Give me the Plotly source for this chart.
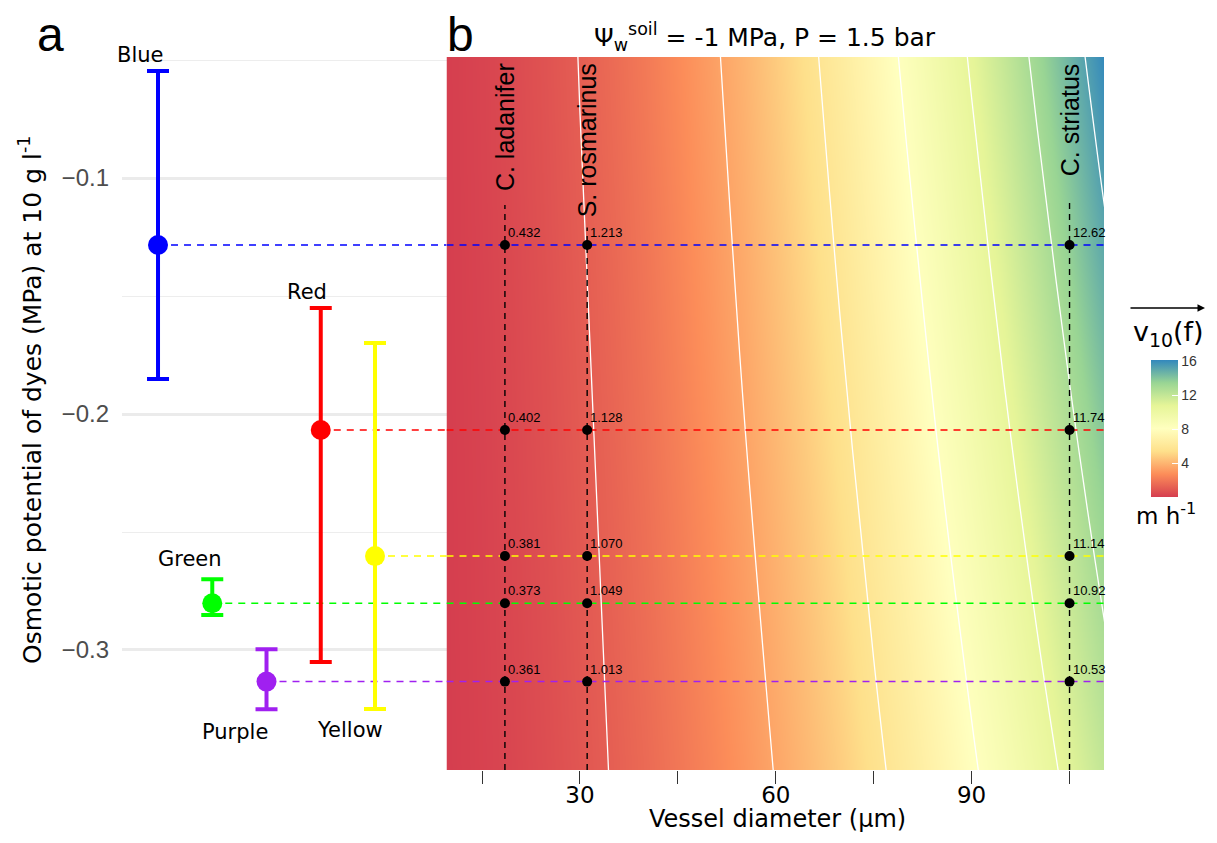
import plotly.graph_objects as go

# ---------------- data ----------------
dyes = ["Blue", "Green", "Purple", "Red", "Yellow"]
dye_colors = ["#0000ff", "#00ff00", "#a020f0", "#ff0000", "#ffff00"]
dye_pos = [1, 2, 3, 4, 5]
dye_mean = [-0.1284, -0.2802, -0.3134, -0.2068, -0.2602]
dye_upper = [-0.0547, -0.2700, -0.2997, -0.1551, -0.1699]
dye_lower = [-0.1852, -0.2852, -0.3251, -0.3051, -0.3250]

species = ["C. ladanifer", "S. rosmarinus", "C. striatus"]
species_diam = [18.5, 31.1, 105.0]
# flow velocity labels (m h-1), same order as dyes
vel_ladanifer = ["0.432", "0.373", "0.361", "0.402", "0.381"]
vel_rosmarinus = ["1.213", "1.049", "1.013", "1.128", "1.070"]
vel_striatus = ["12.62", "10.92", "10.53", "11.74", "11.14"]
vel_labels = [vel_ladanifer, vel_rosmarinus, vel_striatus]

diam_grid = [5, 10, 15, 20, 25, 30, 35, 40, 45, 50, 55, 60, 65, 70, 75, 80,
             85, 90, 95, 100, 105, 110, 115]
psi_grid = [-0.03, -0.37]
v_top = [0.034, 0.134, 0.302, 0.537, 0.838, 1.207, 1.643, 2.146, 2.717, 3.354,
         4.058, 4.829, 5.668, 6.573, 7.546, 8.586, 9.692, 10.866, 12.107,
         13.415, 14.790, 16.232, 17.741]
v_bottom = [0.024, 0.097, 0.218, 0.387, 0.605, 0.871, 1.186, 1.549, 1.961,
            2.421, 2.929, 3.486, 4.091, 4.745, 5.447, 6.197, 6.996, 7.843,
            8.739, 9.683, 10.675, 11.716, 12.806]
v_min, v_max = 0.09, 16.1
contour_start, contour_end, contour_step = 1.165, 15.3, 2.345

cb_ticks = [4, 8, 12, 16]
x_ticks = [15, 30, 45, 60, 75, 90, 105]
x_ticktext = ["", "30", "", "60", "", "90", ""]
y_ticks = [-0.1, -0.2, -0.3]
y_minor = [-0.05, -0.15, -0.25]

# ---------------- layout constants ----------------
# the page body has an 8 px margin, so the figure is placed at (8, 8)
OX, OY = 8, 8
W, H = 1201, 827


def px(x):
    return (x - OX) / W


def py(y):
    return 1 - (y - OY) / H


XA_RANGE = [0.336, 6.318]
XB_RANGE = [9.55, 110.28]
Y_RANGE = [-0.35085, -0.04873]
YDOM = [py(770), py(57)]
XA_DOM = [px(122), px(446.5)]
XB_DOM = [px(446.5), px(1104)]

spectral = ["#d53e4f", "#fc8d59", "#fee08b", "#ffffbf", "#e6f598", "#99d594", "#3288bd"]
cscale = [[i / 6, c] for i, c in enumerate(spectral)]

fig = go.Figure()

# --- panel b background
fig.add_trace(go.Heatmap(
    x=diam_grid, y=psi_grid, z=[v_top, v_bottom], zsmooth="best",
    colorscale=cscale, zmin=v_min, zmax=v_max, xaxis="x2", yaxis="y2",
    hoverinfo="skip",
    colorbar=dict(x=px(1151), xanchor="left", xpad=0, ypad=0,
                  y=py(428.5), yanchor="middle", len=137 / H, lenmode="fraction",
                  thickness=27, outlinewidth=0, tickvals=cb_ticks,
                  ticks="inside", ticklen=6, tickcolor="white", tickwidth=1,
                  tickfont=dict(family="Liberation Sans", size=14, color="#333333"))
))
fig.add_trace(go.Contour(
    x=diam_grid, y=psi_grid, z=[v_top, v_bottom], xaxis="x2", yaxis="y2",
    contours=dict(coloring="none", start=contour_start, end=contour_end, size=contour_step),
    line=dict(color="white", width=1.3), showscale=False, hoverinfo="skip"
))

# --- horizontal dashed lines (panel a part and panel b part)
for i, d in enumerate(dyes):
    fig.add_trace(go.Scatter(
        x=[dye_pos[i], XA_RANGE[1]], y=[dye_mean[i], dye_mean[i]], mode="lines",
        line=dict(color=dye_colors[i], width=1.5, dash="7px,6px"),
        xaxis="x", yaxis="y", hoverinfo="skip", showlegend=False))
    fig.add_trace(go.Scatter(
        x=[XB_RANGE[0], XB_RANGE[1]], y=[dye_mean[i], dye_mean[i]], mode="lines",
        line=dict(color=dye_colors[i], width=1.5, dash="7px,6px"),
        xaxis="x2", yaxis="y2", hoverinfo="skip", showlegend=False))

# --- vertical dashed species lines
line_tops = [-0.1114, -0.1210, -0.1097]
for j, s in enumerate(species):
    fig.add_trace(go.Scatter(
        x=[species_diam[j], species_diam[j]], y=[Y_RANGE[0], line_tops[j]], mode="lines",
        line=dict(color="black", width=1.4, dash="6px,5px"),
        xaxis="x2", yaxis="y2", hoverinfo="skip", showlegend=False))

# --- points
for j, s in enumerate(species):
    fig.add_trace(go.Scatter(
        x=[species_diam[j]] * len(dyes), y=dye_mean, mode="markers",
        marker=dict(color="black", size=10),
        xaxis="x2", yaxis="y2", hoverinfo="skip", showlegend=False))

# --- panel a error bars
for i, d in enumerate(dyes):
    fig.add_trace(go.Scatter(
        x=[dye_pos[i]], y=[dye_mean[i]], mode="markers",
        marker=dict(color=dye_colors[i], size=20),
        error_y=dict(type="data", symmetric=False,
                     array=[dye_upper[i] - dye_mean[i]],
                     arrayminus=[dye_mean[i] - dye_lower[i]],
                     color=dye_colors[i], thickness=4, width=11),
        xaxis="x", yaxis="y", showlegend=False))

annotations = []
# velocity labels next to points
for j, s in enumerate(species):
    for i, d in enumerate(dyes):
        annotations.append(dict(x=species_diam[j], y=dye_mean[i], xref="x2", yref="y2",
                                text=vel_labels[j][i], showarrow=False,
                                xanchor="left", yanchor="bottom", xshift=1, yshift=3,
                                font=dict(family="Liberation Sans", size=13, color="black")))

# species labels
for j, s in enumerate(species):
    annotations.append(dict(x=species_diam[j], y=-0.0505, xref="x2", yref="y2", text=s,
                            textangle=-90, yanchor="top", xanchor="center", showarrow=False,
                            font=dict(family="Liberation Sans", size=25, color="black")))


def paper_text(x, y, text, size, family="DejaVu Sans", angle=0):
    return dict(x=px(x), y=py(y), xref="paper", yref="paper", text=text,
                xanchor="center", yanchor="middle", textangle=angle, showarrow=False,
                font=dict(family=family, size=size, color="black"))


# dye labels (pixel placement of the repelled labels)
dye_label_px = {"Blue": (140, 55), "Green": (189.5, 559), "Purple": (235, 732),
                "Red": (307, 292), "Yellow": (350, 730)}
for d in dyes:
    lx, ly = dye_label_px[d]
    annotations.append(paper_text(lx, ly, d, 21))

annotations.append(paper_text(50, 35, "a", 48, "Liberation Sans"))
annotations.append(paper_text(460, 35, "b", 48, "Liberation Sans"))
annotations.append(paper_text(765, 37, "Ψ<sub>w</sub><sup>soil</sup> = -1 MPa, P = 1.5 bar", 25))
annotations.append(paper_text(777, 819, "Vessel diameter (μm)", 24))
annotations.append(paper_text(30, 400, "Osmotic potential of dyes (MPa) at 10 g l<sup>-1</sup>", 25,
                              angle=-90))
# colourbar titles
annotations.append(dict(x=px(1205), y=py(308), xref="paper", yref="paper", text="",
                        showarrow=True, ax=-76, ay=0, arrowhead=2, arrowsize=1,
                        arrowwidth=1.5, arrowcolor="black", standoff=0))
annotations.append(paper_text(1168, 333, "v<sub>10</sub>(f)", 27))
annotations.append(paper_text(1166, 514, "m h<sup>-1</sup>", 23))

fig.update_layout(
    width=W, height=H, margin=dict(l=0, r=0, t=0, b=0, autoexpand=False),
    paper_bgcolor="white", plot_bgcolor="white", showlegend=False,
    xaxis=dict(domain=XA_DOM, range=XA_RANGE, showgrid=False, zeroline=False,
               showticklabels=False, ticks="", anchor="y"),
    yaxis=dict(domain=YDOM, range=Y_RANGE, tickvals=y_ticks, showgrid=True,
               gridcolor="#ebebeb", gridwidth=2.5, zeroline=False, ticks="",
               ticklabelstandoff=12,
               tickfont=dict(family="Liberation Sans", size=24, color="#4d4d4d"),
               minor=dict(tickvals=y_minor, showgrid=True, gridcolor="#ededed", gridwidth=1.3),
               anchor="x"),
    xaxis2=dict(domain=XB_DOM, range=XB_RANGE, tickvals=x_ticks, ticktext=x_ticktext,
                ticks="outside", ticklen=13, tickwidth=1.2, tickcolor="#333333",
                ticklabelstandoff=-9,
                showgrid=False, zeroline=False, anchor="y2",
                tickfont=dict(family="DejaVu Sans", size=23, color="black")),
    yaxis2=dict(domain=YDOM, range=Y_RANGE, matches="y", showticklabels=False,
                showgrid=False, zeroline=False, ticks="", anchor="x2"),
    annotations=annotations,
)

fig.write_html("out.html")
